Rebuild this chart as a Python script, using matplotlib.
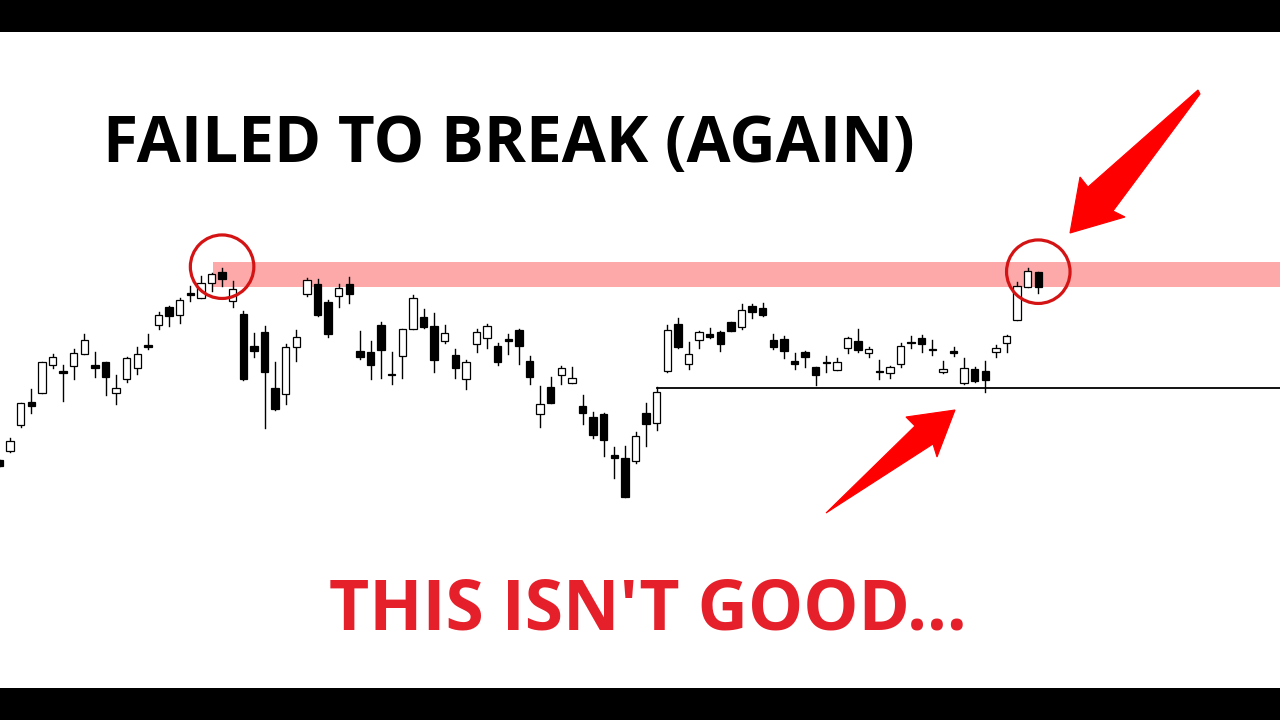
import matplotlib
matplotlib.use("Agg")
import matplotlib.pyplot as plt
from matplotlib.patches import Rectangle, Ellipse, Polygon

# candle data (arbitrary price units)
opens = [260, 269, 295, 318.3, 327.3, 355.3, 349.3, 353.7, 365.7, 354.7,
         358.3, 327.3, 341.3, 351.7, 375, 395, 412.7, 405, 426.5, 422.3,
         436.7, 448.3, 419.3, 405.7, 374, 387.7, 331.7, 325.7, 373.3, 425.7,
         435.7, 418.3, 424, 436, 369, 368, 395.3, 346, 364.3, 390.7,
         403.3, 394.3, 379.3, 365, 340.7, 375.7, 381.7, 374.3, 380.5, 390,
         359, 305.7, 333.3, 345, 337.3, 314, 302.7, 305.7, 264.7, 262.3,
         259.3, 307.3, 296.7, 349.3, 395.7, 356, 380, 386.3, 388.3, 398,
         392.7, 414, 412.3, 380, 380.7, 359.3, 367.7, 352.7, 358, 350,
         371.7, 379, 367.3, 348.7, 346.7, 356, 378, 382.3, 371, 347.7,
         369, 336.7, 350.7, 349, 368.3, 377.3, 400, 432.7, 447.7]
highs = [260, 282, 317, 331.3, 358, 366, 355, 371.3, 385.7, 367.7,
         358.3, 344.7, 363, 372.7, 385.7, 408, 414, 422.3, 434.3, 444.3,
         447, 451.7, 439.3, 409.3, 387.3, 394.3, 357.7, 375.7, 390, 441.7,
         440.7, 420, 435.7, 443, 389.3, 379.3, 397.7, 368, 391, 425,
         410.7, 407.3, 395, 370.7, 360, 390.7, 396, 376.7, 386, 391,
         364, 334, 343.3, 354, 353.3, 325, 307.7, 306.7, 273.3, 274.3,
         288.3, 317.3, 332.7, 395, 401.7, 377.7, 389, 392.3, 389, 398.5,
         415.7, 416, 416.7, 385.7, 384, 366.7, 369.3, 353, 364, 361.7,
         383, 390.7, 373.3, 360, 354, 377.3, 384, 385, 380, 359.3,
         373.3, 361.7, 352.7, 359.3, 375, 385, 438.3, 451.7, 448]
lows = [254, 268, 293, 306.7, 327, 351.7, 319.3, 341, 365.7, 343.3,
        325.3, 316.3, 338.3, 346, 370.7, 391.3, 394.3, 396.7, 419.3, 421.7,
        429, 434.3, 412.7, 340, 362.7, 291.7, 310, 315.7, 359, 424.3,
        404, 383.3, 412.7, 416.7, 360.7, 340.7, 342.3, 335.7, 342.3, 390.7,
        391.7, 348.3, 376.7, 341.7, 331, 367.7, 372.3, 355, 366, 355.7,
        336, 293.3, 317, 335.7, 337.3, 295.7, 281.7, 264.3, 241.7, 222.7,
        256.7, 274.3, 290, 348.3, 372, 350.7, 371.7, 382, 369, 389,
        391, 402.3, 404.5, 370.7, 361.7, 350.7, 352.7, 335, 348.3, 350,
        366.7, 368.3, 363.3, 340.7, 341.7, 353.3, 371.7, 368.3, 365, 346.7,
        364.3, 335.7, 338.3, 328.3, 363.3, 368.3, 400, 432.7, 426.7]
closes = [254, 279, 317, 314.3, 357.7, 363, 347.3, 366.7, 379.7, 351.7,
          343.3, 332, 362, 365.7, 373.3, 405.3, 404.3, 420, 425.5, 437.3,
          445.7, 441, 431, 340.7, 369.3, 348.3, 310.7, 372.7, 383, 440,
          405, 386, 431.7, 425.7, 363.3, 355, 370, 344.7, 390.7, 421.7,
          392.7, 360.3, 386.7, 352.3, 357.7, 388.3, 393.7, 358.3, 379.5, 374,
          343.3, 315.7, 317.3, 351.7, 341.7, 306.7, 285, 280, 262.3, 223.3,
          284, 295.7, 328.3, 390, 372.7, 366, 387.7, 382.7, 375.7, 389.3,
          410, 408.3, 405, 373.3, 369.3, 356, 362.7, 345, 357.3, 357.7,
          382.3, 370, 371.3, 348, 352.7, 374, 377.3, 375.7, 370.3, 351,
          366.7, 351.7, 339.3, 340, 371.7, 384, 434.3, 449.3, 433.3]

# resistance zone, support level, marked candles
zone_low, zone_high, zone_start = 433.3, 458.3, 20.1
support_level, support_start = 332.5, 62
marked = [(21, 453.3), (98, 448.3)]

title_text = "FAILED TO BREAK (AGAIN)"
sub_text = "THIS ISN'T GOOD..."

W, H = 1280, 720
fig = plt.figure(figsize=(12.8, 7.2), dpi=100)
fig.patch.set_facecolor("white")

# candle axes: one index step = 10.6 px, one price unit = 1 px
step = 10.6
ax = fig.add_axes([0, 0, 1, 1])
ax.set_xlim(0.5 / step, (W + 0.5) / step)
ax.set_ylim(0, H)
ax.axis("off")

ax.axhspan(zone_low, zone_high, xmin=(zone_start * step - 0.5) / W, xmax=1,
           color="#fda9a9", lw=0, zorder=1)
ax.plot([support_start, (W + 0.5) / step], [support_level, support_level],
        color="black", lw=1.3, zorder=2)

bw = 0.7
for i in range(len(opens)):
    o, h, l, c = opens[i], highs[i], lows[i], closes[i]
    ax.plot([i, i], [l, h], color="black", lw=1.0, zorder=3)
    up = c >= o
    bottom = min(o, c)
    height = max(abs(c - o), 1.2)
    ax.add_patch(Rectangle((i - bw / 2, bottom), bw, height,
                           facecolor="white" if up else "black",
                           edgecolor="black", lw=0.9, zorder=4))

for cx, cy in marked:
    ax.add_patch(Ellipse((cx, cy), 63.5 / step, 63.5, fill=False,
                         edgecolor="#d41414", lw=2.3, zorder=6))

# overlay in pixel coordinates for frame, text and arrows
ov = fig.add_axes([0, 0, 1, 1])
ov.set_xlim(0, W)
ov.set_ylim(H, 0)
ov.axis("off")
ov.patch.set_alpha(0)

ov.add_patch(Rectangle((0, 0), W, 32, color="black", lw=0))
ov.add_patch(Rectangle((0, 688), W, 32, color="black", lw=0))

ov.text(103, 162, title_text, fontsize=46, fontweight="bold",
        family="Open Sans", color="black", ha="left", va="baseline")
ov.text(329, 629, sub_text, fontsize=50, fontweight="bold",
        family="Open Sans", color="#e5202a", ha="left", va="baseline")

arrow_top = [(1198, 90), (1200, 94), (1113, 211), (1125, 217), (1070, 233),
             (1080, 177), (1088, 187)]
arrow_bottom = [(826, 513), (915, 426), (906, 417), (955, 410),
                (937, 457), (933, 444)]
for pts in (arrow_top, arrow_bottom):
    ov.add_patch(Polygon(pts, closed=True, facecolor="#ff0000",
                         edgecolor="#ff0000", lw=0.8, zorder=5))

fig.savefig("out.png", dpi=100)
